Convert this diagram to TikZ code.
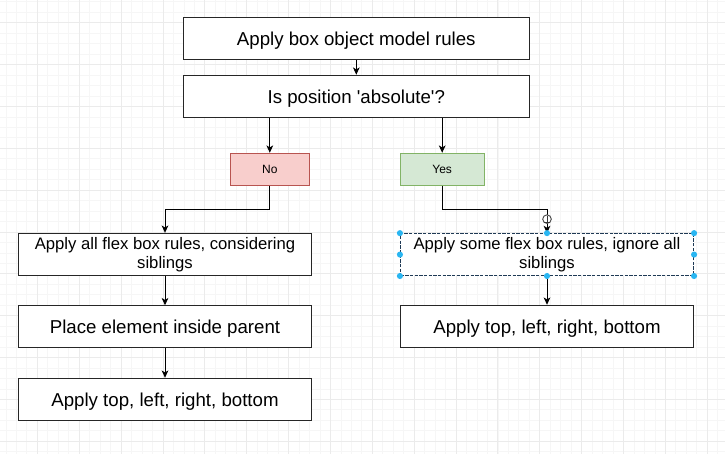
\documentclass[tikz,border=0pt]{standalone}
\usepackage{fontspec}
\setmainfont{Liberation Sans}
\usetikzlibrary{arrows.meta}
\definecolor{gridminor}{HTML}{F6F6F6}
\definecolor{gridmajor}{HTML}{EBEBEB}
\definecolor{nofill}{HTML}{F8CECC}
\definecolor{nodraw}{HTML}{B85450}
\definecolor{yesfill}{HTML}{D5E8D4}
\definecolor{yesdraw}{HTML}{82B366}
\definecolor{handle}{HTML}{29B6F2}
\definecolor{selline}{HTML}{1F3A55}
\tikzset{
  box/.style={draw=black!85, line width=0.85pt, fill=white, rectangle, inner sep=0pt,
    minimum width=259.5pt, minimum height=31.5pt, align=center,
    font=\fontsize{14}{16}\selectfont},
  oneline/.style={text height=12.8pt, text depth=2pt},
  wbox/.style={box, minimum width=219.75pt, minimum height=31.3pt},
  twoline/.style={font=\fontsize{12.5}{14.3}\selectfont, yshift=-0.8pt},
  decision/.style={rectangle, line width=0.85pt, inner sep=0pt, minimum height=23.8pt,
    font=\fontsize{9}{11}\selectfont},
  arr/.style={draw=black, line width=0.75pt, -{Stealth[length=5.5pt, width=5pt, inset=1.5pt]}},
  hdl/.style={circle, fill=handle, inner sep=0pt, minimum size=4.6pt},
}
\begin{document}
\begin{tikzpicture}[x=0.75pt, y=-0.75pt]
\useasboundingbox (0,0) rectangle (725,454);
\fill[white] (0,0) rectangle (725,454);
\begin{scope}
\clip (0,0) rectangle (725,454);
\foreach \i in {-4,...,66} {
  \draw[gridminor, line width=0.5pt] ({37.3+\i*10.467},0) -- ({37.3+\i*10.467},454);
}
\foreach \i in {-3,...,41} {
  \draw[gridminor, line width=0.5pt] (0,{22.7+\i*10.462}) -- (725,{22.7+\i*10.462});
}
\foreach \i in {-1,...,17} {
  \draw[gridmajor, line width=0.6pt] ({37.3+\i*41.87},0) -- ({37.3+\i*41.87},454);
}
\foreach \i in {-1,...,11} {
  \draw[gridmajor, line width=0.6pt] (0,{22.7+\i*41.85}) -- (725,{22.7+\i*41.85});
}
\end{scope}

\node[box, oneline] (b1) at (356.3,38.3) {Apply box object model rules};
\node[box, oneline] (b2) at (356.3,96.3) {Is position \textquotesingle absolute\textquotesingle?};
\node[decision, draw=nodraw, fill=nofill, minimum width=59.25pt] (no) at (269.8,169.2) {No};
\node[decision, draw=yesdraw, fill=yesfill, minimum width=63.2pt] (yes) at (442.2,169.2) {Yes};
\node[wbox, twoline] (l1) at (165,253.2) {Apply all flex box rules, considering\\siblings};
\node[wbox, oneline] (l2) at (165,326.7) {Place element inside parent};
\node[wbox, oneline] (l3) at (165,399.2) {Apply top, left, right, bottom};
\node[wbox, twoline, draw=selline, dash pattern=on 2.5pt off 1pt] (r1) at (547,253.5) {Apply some flex box rules, ignore all\\siblings};
\node[wbox, oneline] (r2) at (547,326.2) {Apply top, left, right, bottom};

\draw[arr] (b1.south) -- (b2.north);
\draw[arr] (no.north |- b2.south) -- (no.north);
\draw[arr] (yes.north |- b2.south) -- (yes.north);
\draw[arr] (no.south) -- ++(0,23.5) -| (l1.north);
\draw[arr] (yes.south) -- ++(0,24) -| (r1.north);
\draw[arr] (l1.south) -- (l2.north);
\draw[arr] (l2.south) -- (l3.north);
\draw[arr] (r1.south) -- (r2.north);

% connection hover icon
\coordinate (ic) at ([yshift=10.5pt]r1.north);
\draw[fill=white, draw=black!70, line width=0.7pt] (ic) circle (4.3);
\draw[black!80, line width=0.7pt] ([yshift=-2.2pt]ic) -- ([yshift=2.2pt]ic);
\fill[black!80] ([xshift=-2pt,yshift=-3.2pt]ic) rectangle ([xshift=2pt,yshift=-1.8pt]ic);

% selection handles
\foreach \a in {north west, north, north east, west, east, south west, south, south east} {
  \node[hdl] at (r1.\a) {};
}
\end{tikzpicture}
\end{document}
